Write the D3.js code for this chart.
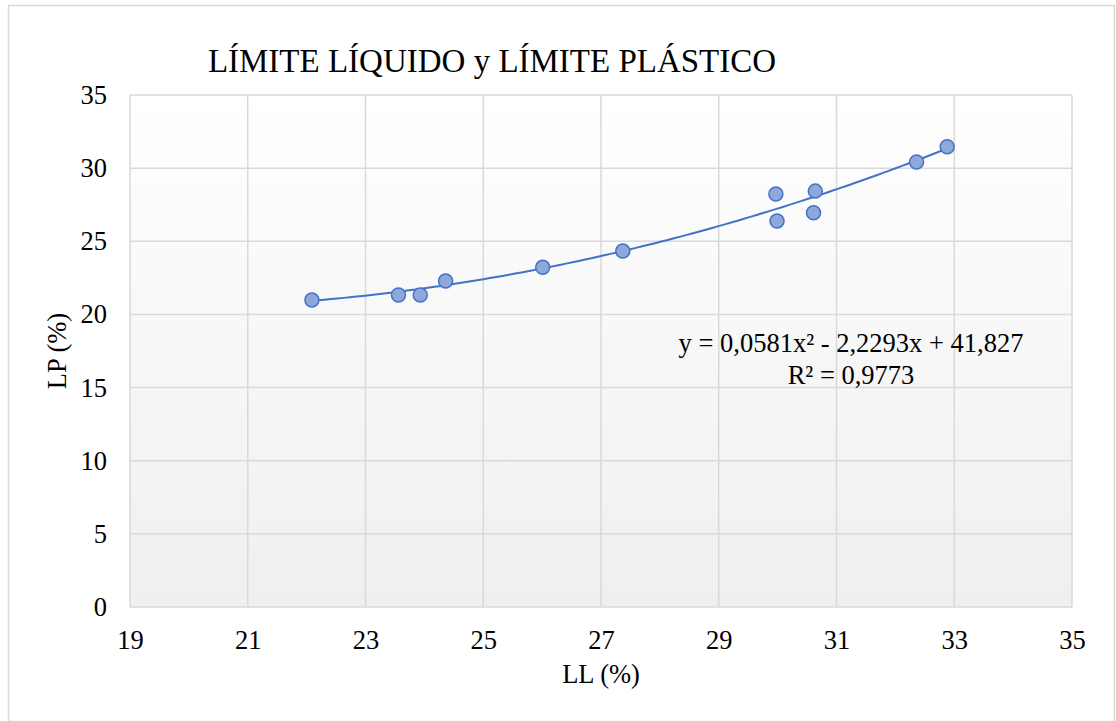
<!DOCTYPE html>
<html>
<head>
<meta charset="utf-8">
<script src="https://cdn.jsdelivr.net/npm/d3@7"></script>
<style>
  html, body { margin: 0; padding: 0; background: #ffffff; }
  svg { display: block; }
  text { font-family: "Liberation Serif", "Times New Roman", serif; fill: #000; }
</style>
</head>
<body>
<svg id="chart" width="1116" height="721"></svg>
<script>
// Liquid limit (LL) and plastic limit (LP) of the samples, in %
const llValues = [22.09, 23.56, 23.93, 24.36, 26.01, 27.37, 29.97, 29.99, 30.64, 30.61, 32.36, 32.88];
const lpValues = [20.98, 21.33, 21.33, 22.28, 23.22, 24.33, 28.23, 26.38, 28.43, 26.95, 30.42, 31.46];

// Polynomial (order 2) trend line coefficients: y = a x² + b x + c
const trendCoef = [0.0581, -2.2293, 41.827];
const trendLabel = ["y = 0,0581x² - 2,2293x + 41,827", "R² = 0,9773"];

const xTicks = [19, 21, 23, 25, 27, 29, 31, 33, 35];
const yTicks = [0, 5, 10, 15, 20, 25, 30, 35];

const titleText = "LÍMITE LÍQUIDO y LÍMITE PLÁSTICO";
const xTitle = "LL (%)";
const yTitle = "LP (%)";

const svg = d3.select("#chart");
const W = 1116, H = 721;
const margin = { left: 130, right: 1116 - 1072, top: 95, bottom: 721 - 607 };
const FS = 26.5;

const x = d3.scaleLinear().domain([19, 35]).range([margin.left, W - margin.right]);
const y = d3.scaleLinear().domain([0, 35]).range([H - margin.bottom, margin.top]);

// outer chart frame
svg.append("rect")
  .attr("x", 8.5).attr("y", 5.5).attr("width", 1106).attr("height", 716)
  .attr("fill", "#ffffff").attr("stroke", "#d9d9d9").attr("stroke-width", 1.5);

// plot area gradient background
const defs = svg.append("defs");
const grad = defs.append("linearGradient").attr("id", "plotBg")
  .attr("x1", 0).attr("y1", 0).attr("x2", 0).attr("y2", 1);
grad.append("stop").attr("offset", "0%").attr("stop-color", "#ffffff");
grad.append("stop").attr("offset", "100%").attr("stop-color", "#efefef");

svg.append("rect")
  .attr("x", x(19)).attr("y", y(35))
  .attr("width", x(35) - x(19)).attr("height", y(0) - y(35))
  .attr("fill", "url(#plotBg)");

// gridlines
const grid = svg.append("g").attr("stroke", "#d9d9d9").attr("stroke-width", 1.5);
grid.selectAll("line.v").data(xTicks).join("line")
  .attr("x1", d => x(d)).attr("x2", d => x(d))
  .attr("y1", y(0)).attr("y2", y(35));
grid.selectAll("line.h").data(yTicks).join("line")
  .attr("x1", x(19)).attr("x2", x(35))
  .attr("y1", d => y(d)).attr("y2", d => y(d));

// axes (labels only, lines come from the grid)
const xAxis = svg.append("g")
  .attr("transform", `translate(0,${y(0)})`)
  .call(d3.axisBottom(x).tickValues(xTicks).tickSize(0).tickPadding(23).tickFormat(d3.format("d")));
const yAxis = svg.append("g")
  .attr("transform", `translate(${x(19)},0)`)
  .call(d3.axisLeft(y).tickValues(yTicks).tickSize(0).tickPadding(23).tickFormat(d3.format("d")));
[xAxis, yAxis].forEach(g => {
  g.attr("font-family", null).attr("font-size", null);
  g.select(".domain").remove();
  g.selectAll("text").attr("font-size", FS).attr("fill", "#000");
});
xAxis.selectAll("text").attr("dy", "0.71em");

// trend line
const a = trendCoef[0], b = trendCoef[1], c = trendCoef[2];
const xMin = d3.min(llValues), xMax = d3.max(llValues);
const curve = d3.range(0, 101).map(i => {
  const xv = xMin + (xMax - xMin) * i / 100;
  return [xv, a * xv * xv + b * xv + c];
});
svg.append("path")
  .datum(curve)
  .attr("fill", "none").attr("stroke", "#4472c4").attr("stroke-width", 2)
  .attr("d", d3.line().x(d => x(d[0])).y(d => y(d[1])));

// data points
svg.append("g").selectAll("circle")
  .data(llValues.map((v, i) => [v, lpValues[i]]))
  .join("circle")
  .attr("cx", d => x(d[0])).attr("cy", d => y(d[1])).attr("r", 7)
  .attr("fill", "#8fa8db").attr("stroke", "#4472c4").attr("stroke-width", 1.5);

// trend line equation
const eq = svg.append("text").attr("font-size", FS).attr("text-anchor", "middle");
eq.append("tspan").attr("x", 851).attr("y", 352).text(trendLabel[0]);
eq.append("tspan").attr("x", 851).attr("y", 384).text(trendLabel[1]);

// titles
svg.append("text").attr("x", 492).attr("y", 72).attr("text-anchor", "middle")
  .attr("font-size", 33).text(titleText);
svg.append("text").attr("x", x(27)).attr("y", 683).attr("text-anchor", "middle")
  .attr("font-size", FS).text(xTitle);
svg.append("text")
  .attr("transform", `translate(66,${y(17.5)}) rotate(-90)`)
  .attr("text-anchor", "middle").attr("font-size", FS).text(yTitle);
</script>
</body>
</html>
